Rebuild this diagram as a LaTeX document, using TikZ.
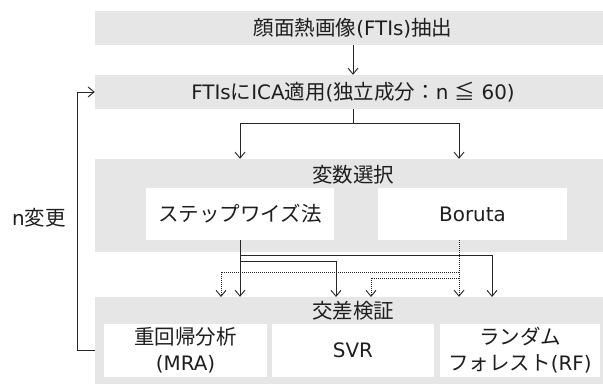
\documentclass[tikz,border=0pt]{standalone}
\usepackage{fontspec}
\setmainfont{Noto Sans CJK JP}
\newfontfamily\latfont{DejaVu Sans}[Scale=0.97]
\newcommand\latn[1]{{\latfont #1}}
\usetikzlibrary{arrows.meta}
\definecolor{boxgray}{RGB}{230,230,230}
\definecolor{txt}{RGB}{30,30,30}
\begin{document}
\begin{tikzpicture}[x=1pt,y=-1pt,
  font=\fontsize{20.5}{26}\selectfont, text=txt,
  graybox/.style={fill=boxgray, draw=none, inner sep=0pt, rectangle},
  whitebox/.style={fill=white, draw=none, inner sep=0pt, rectangle, align=center},
  line/.style={draw=black!85, line width=0.9pt},
  arr/.style={line, -{Straight Barb[length=6pt,width=10pt]}},
  dotln/.style={dash pattern=on 1pt off 1pt}
]
\useasboundingbox (0,0) rectangle (603,385);
\clip (0,0) rectangle (603,385);

% boxes
\node[graybox, minimum width=516pt, minimum height=34pt] (b1) at (353,28) {顔面熱画像\latn{(FTIs)}抽出};
\node[graybox, minimum width=516pt, minimum height=34pt] (b2) at (353,92) {\latn{FTIs}に\latn{ICA}適用\latn{(}独立成分：\latn{n }≦\latn{ 60)}};
\node[graybox, minimum width=516pt, minimum height=93pt] (b3) at (353,205.5) {};
\node (t3) at (353,175) {変数選択};
\node[whitebox, minimum width=188pt, minimum height=52pt] (sw) at (240,214) {ステップワイズ法};
\node[whitebox, minimum width=189pt, minimum height=52pt] (bor) at (472.5,214) {\latn{Boruta}};
\node[graybox, minimum width=516pt, minimum height=87pt] (b4) at (353,340.5) {};
\node (t4) at (353,311) {交差検証};
\node[whitebox, minimum width=163pt, minimum height=53pt] (mra) at (185.5,350.5) {重回帰分析\\\latn{(MRA)}};
\node[whitebox, minimum width=162pt, minimum height=53pt] (svr) at (353,350.5) {\latn{SVR}};
\node[whitebox, minimum width=160pt, minimum height=53pt] (rf) at (520,350.5) {ランダム\\フォレスト\latn{(RF)}};
\node (nchg) at (39,218) {\latn{n}変更};

% helper coordinates
\coordinate (j) at (353,123);
\coordinate (bx) at (459,240);
\coordinate (h1) at (240,255);
\coordinate (h2) at (240,261);
\coordinate (d1) at (459,272);
\coordinate (d2) at (459,278);
\coordinate (rfin) at (492,297);
\coordinate (svrin) at (336,297);
\coordinate (mrain) at (221,297);
\coordinate (svrin2) at (371,297);
\coordinate (fb) at (77,0);

% connectors
\draw[arr] (b1.south) -- (b2.north);
\draw[line] (b2.south) -- (j);
\draw[arr] (j) -| (sw.north |- b3.north);
\draw[arr] (j) -| (bx |- b3.north);

\draw[arr] (sw.south) -- (sw.south |- b4.north);
\draw[arr] (h1) -| (rfin);
\draw[arr] (h2) -| (svrin);
\draw[arr, dotln] (bx) -- (bx |- b4.north);
\draw[arr, dotln] (d1) -| (mrain);
\draw[arr, dotln] (d2) -| (svrin2);

% feedback loop
\draw[arr] (b4.west |- mra.west) -| (fb |- b2.west) -- (b2.west);
\end{tikzpicture}
\end{document}
